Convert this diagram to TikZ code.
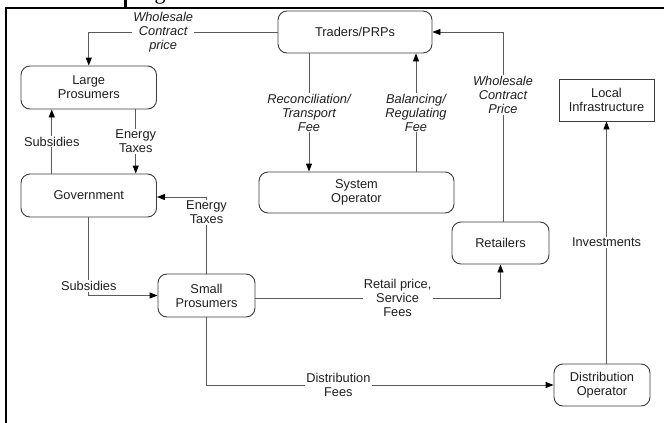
\documentclass[tikz,border=0pt]{standalone}
\usepackage{fontspec}
\setmainfont{Liberation Sans}
\newfontfamily\captionserif{Liberation Serif}
\usetikzlibrary{arrows.meta,calc}

\definecolor{linec}{HTML}{5A5A5A}
\definecolor{boxc}{HTML}{3C3C3C}
\definecolor{txt}{HTML}{1E1E1E}
\newcommand\lblfont{\fontsize{12.8}{14}\selectfont}

\tikzset{
  actor/.style={draw=boxc, line width=0.9pt, rounded corners=9pt, align=center,
                inner sep=0pt, font=\lblfont, text=txt},
  plainbox/.style={actor, rounded corners=0pt},
  flow/.style={draw=linec, line width=0.9pt,
               -{Triangle[length=8pt,width=6pt,color=black]}},
  tag/.style={fill=white, inner sep=1.2pt, align=center, font=\lblfont, text=txt},
  itag/.style={tag, font=\lblfont\itshape},
  frame/.style={draw=black, line width=2.6pt, line join=miter}
}

\begin{document}
\begin{tikzpicture}[x=1pt, y=-1pt]
\useasboundingbox (0,0) rectangle (664,423);

% page frame and clipped caption fragment
\begin{scope}
  \clip (130,0) rectangle (200,6.5);
  \node[anchor=base, font=\captionserif\fontsize{22}{22}\selectfont, inner sep=0pt]
       (capg) at (160,-0.6) {g};
\end{scope}
\draw[frame] (664,7.8) -- (6,7.8) -- (6,423);
\draw[frame] (125.5,0) -- (125.5,7.8);

% actors
\node[actor, minimum width=135.5pt, minimum height=43pt] (large)   at (88.75,87.5)  {Large\\Prosumers};
\node[actor, minimum width=135.5pt, minimum height=43pt] (gov)     at (88.75,195.5) {Government};
\node[actor, minimum width=154pt,   minimum height=42pt] (traders) at (355,32)      {Traders/PRPs};
\node[actor, minimum width=195pt,   minimum height=41pt] (sysop)   at (356.5,192.5) {System\\Operator};
\node[plainbox, minimum width=95pt, minimum height=42pt] (local)   at (606.5,100)   {Local\\Infrastructure};
\node[actor, minimum width=97pt,    minimum height=42pt] (retail)  at (500.5,243)   {Retailers};
\node[actor, minimum width=97pt,    minimum height=43pt] (small)   at (206.5,295.5) {Small\\Prosumers};
\node[actor, minimum width=96pt,    minimum height=42pt] (dist)    at (602,385)     {Distribution\\Operator};

% flows between large prosumers and government
\draw[flow] ($(gov.north)+(-37,0)$) coordinate (subA) -- (subA |- large.south)
  node[tag, midway] {Subsidies};
\draw[flow] ($(large.south)+(47,0)$) coordinate (taxA) -- (taxA |- gov.north)
  node[tag, midway] {Energy\\Taxes};

% wholesale contracts
\draw[flow] (traders.west) -| (large.north)
  node[itag, pos=0.303] {Wholesale\\Contract\\price};
\draw[flow] ($(retail.north)+(2.5,0)$) |- (traders.east)
  node[itag, pos=0.334] {Wholesale\\Contract\\Price};

% traders and system operator
\draw[flow] ($(traders.south)+(-46,0)$) coordinate (recA) -- (recA |- sysop.north)
  node[itag, midway] {Reconciliation/\\Transport\\Fee};
\draw[flow] ($(sysop.north)+(59.5,0)$) coordinate (balA) -- (balA |- traders.south)
  node[itag, midway] {Balancing/\\Regulating\\Fee};

% small prosumers
\draw[flow] (small.north) |- ($(gov.east)+(0,1.5)$)
  node[tag, pos=0.4] {Energy\\Taxes};
\draw[flow] (gov.south) |- (small.west)
  node[tag, pos=0.44] {Subsidies};
\draw[flow] ($(small.east)+(0,2.5)$) -| (retail.south)
  node[tag, pos=0.29] {Retail price,\\Service\\Fees};
\draw[flow] (small.south) |- (dist.west)
  node[tag, pos=0.69] {Distribution\\Fees};

% distribution operator investments
\draw[flow] (dist.north -| local.south) -- (local.south)
  node[tag, midway] {Investments};
\end{tikzpicture}
\end{document}
